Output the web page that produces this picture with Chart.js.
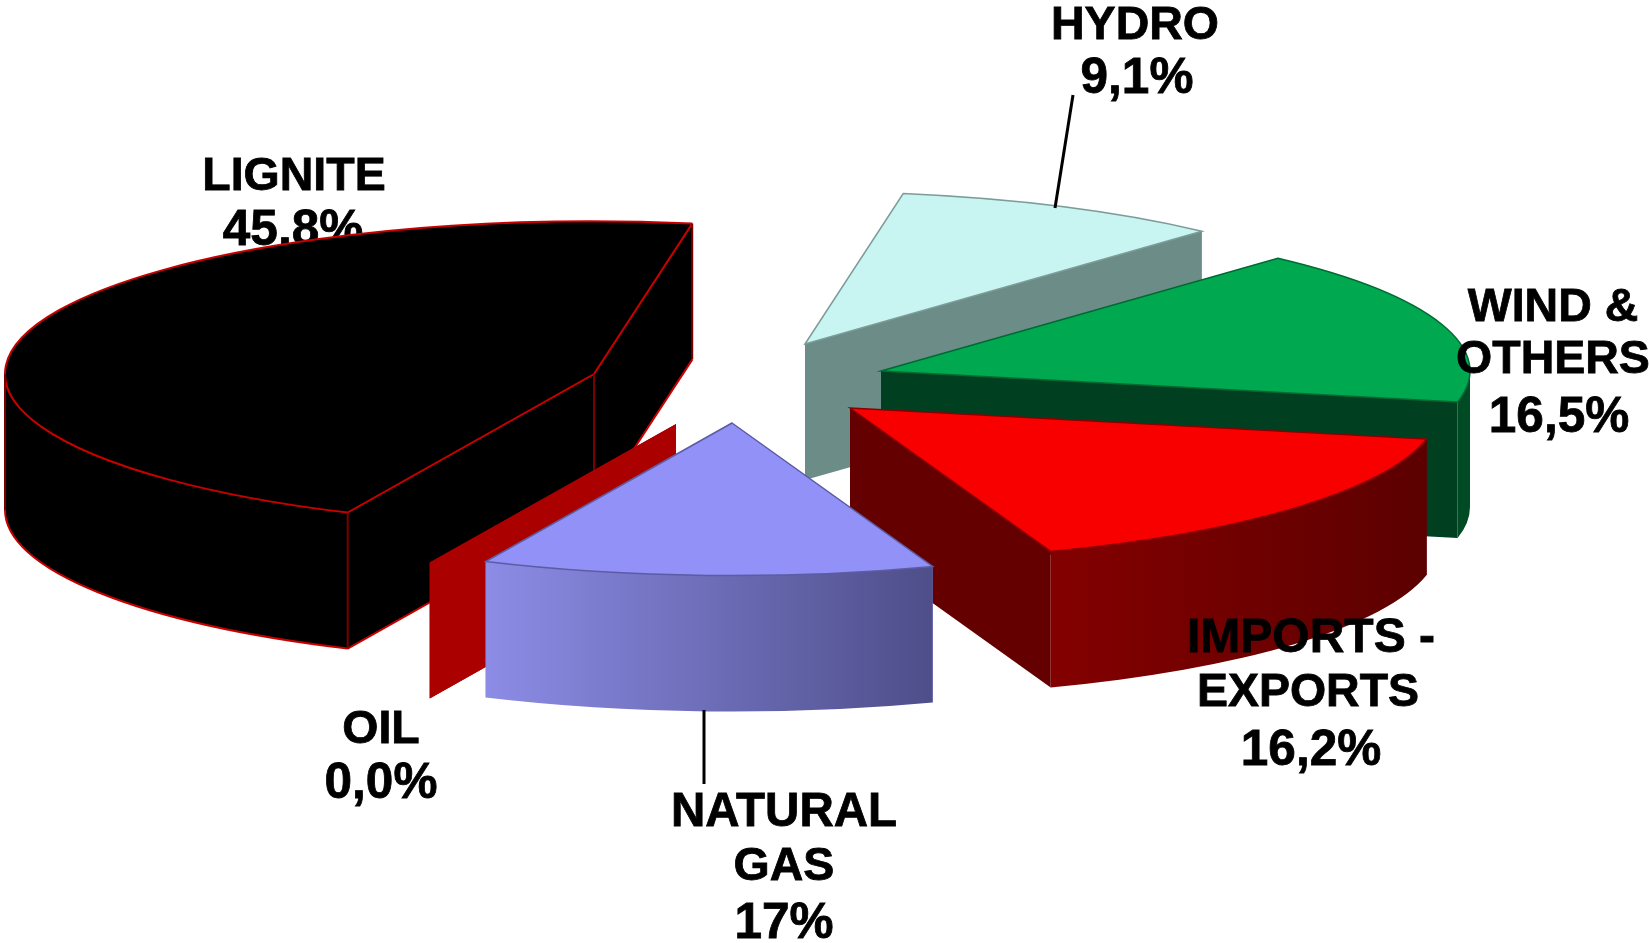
<!DOCTYPE html>
<html>
<head>
<meta charset="utf-8">
<title>Electricity mix</title>
<script src="https://cdn.jsdelivr.net/npm/chart.js@4"></script>
<style>
  html, body { margin: 0; padding: 0; background: #fff; }
  canvas { display: block; }
</style>
</head>
<body>
<canvas id="mix" width="1649" height="943"></canvas>
<script>
// slices clockwise, starting at the back of the pie
const categories = ["HYDRO", "WIND & OTHERS", "IMPORTS - EXPORTS", "NATURAL GAS", "OIL", "LIGNITE"];
// share as drawn in the picture (the gas slice is drawn smaller than its 17% label)
const sliceShares = [9.1, 16.5, 16.2, 12.4, 0.0, 45.8];
const shareLabels = ["9,1%", "16,5%", "16,2%", "17%", "0,0%", "45,8%"];

const topColors = ["#c8f5f2", "#00a94f", "#f80000", "#9191f7", "#ab0000", "#000000"];

const SQUASH = 0.259;   // ellipse height / width
const DEPTH = 136;      // slice thickness in px

// per-slice look of the extruded part
const walls = {
  0: { side: "#6c8c88", outer: ["#6c8c88", "#6c8c88"], rim: "#7d9c98" },
  1: { side: "#004020", outer: ["#004a24", "#004a24"], rim: "#006a34" },
  2: { side: "#640000", outer: ["#840000", "#5c0000"], rim: "#8a0000" },
  3: { side: "#8a8ae6", outer: ["#8c8ce6", "#4e4e8a"], rim: "#5c5ca4" },
  4: { side: "#ab0000", outer: ["#ab0000", "#ab0000"] },
  5: { side: "#000000", outer: ["#000000", "#000000"], edge: "#c80000" }
};

function frontRanges(a0, a1) {
  // parts of [a0,a1] that face the viewer (lower half of the ellipse)
  const out = [];
  const TAU = Math.PI * 2;
  for (let k = -1; k <= 2; k++) {
    const s = Math.max(a0, k * TAU);
    const e = Math.min(a1, k * TAU + Math.PI);
    if (e > s) out.push([s, e]);
  }
  return out;
}

const pie3d = {
  id: "pie3d",
  beforeDatasetDraw() {
    return false; // everything is painted in beforeDatasetsDraw
  },
  beforeDatasetsDraw(chart, args, opts) {
    const ctx = chart.ctx;
    const arcs = chart.getDatasetMeta(0).data;

    opts.behind.forEach((t) => drawText(ctx, t));

    opts.paintOrder.forEach((i) => {
      const arc = arcs[i];
      const wall = walls[i];
      const cx = arc.x + opts.explode[i][0];
      const cy = arc.y + opts.explode[i][1];
      const r = arc.outerRadius;
      const px = (a) => cx + Math.cos(a) * r;
      const py = (a) => cy + Math.sin(a) * r * SQUASH;

      // radial cut faces
      [arc.startAngle, arc.endAngle].forEach((a) => {
        ctx.fillStyle = wall.side;
        ctx.beginPath();
        ctx.moveTo(cx, cy);
        ctx.lineTo(px(a), py(a));
        ctx.lineTo(px(a), py(a) + DEPTH);
        ctx.lineTo(cx, cy + DEPTH);
        ctx.closePath();
        ctx.fill();
      });

      // curved outer wall
      frontRanges(arc.startAngle, arc.endAngle).forEach(([a0, a1]) => {
        const grad = ctx.createLinearGradient(Math.min(px(a0), px(a1)), 0, Math.max(px(a0), px(a1)), 0);
        // the light side is the left one
        grad.addColorStop(0, wall.outer[0]);
        grad.addColorStop(1, wall.outer[1]);
        ctx.fillStyle = grad;
        ctx.beginPath();
        ctx.ellipse(cx, cy, r, r * SQUASH, 0, a0, a1);
        ctx.ellipse(cx, cy + DEPTH, r, r * SQUASH, 0, a1, a0, true);
        ctx.closePath();
        ctx.fill();
      });

      // top face: the library's own arc, squashed and moved out
      ctx.save();
      ctx.translate(cx, cy);
      ctx.scale(1, SQUASH);
      ctx.translate(-arc.x, -arc.y);
      arc.draw(ctx);
      ctx.restore();

      // thin darker rim round the top face
      if (wall.rim) {
        ctx.strokeStyle = wall.rim;
        ctx.lineWidth = 1.5;
        ctx.beginPath();
        ctx.moveTo(cx, cy);
        ctx.lineTo(px(arc.startAngle), py(arc.startAngle));
        ctx.ellipse(cx, cy, r, r * SQUASH, 0, arc.startAngle, arc.endAngle);
        ctx.closePath();
        ctx.stroke();
      }

      // red wire edges on the lignite slice
      if (wall.edge) {
        const a0 = arc.startAngle, a1 = arc.endAngle;
        ctx.strokeStyle = wall.edge;
        ctx.lineWidth = 2;
        ctx.beginPath();
        ctx.moveTo(px(a1), py(a1));
        ctx.lineTo(cx, cy);
        ctx.lineTo(px(a0), py(a0));
        ctx.ellipse(cx, cy, r, r * SQUASH, 0, a0, a1);
        ctx.stroke();
        ctx.beginPath();
        ctx.ellipse(cx, cy + DEPTH, r, r * SQUASH, 0, a0, Math.PI);
        ctx.moveTo(px(a1), py(a1) + DEPTH);
        ctx.lineTo(cx, cy + DEPTH);
        ctx.lineTo(px(a0), py(a0) + DEPTH);
        ctx.stroke();
        ctx.strokeStyle = "#7a0000";
        ctx.lineWidth = 2;
        ctx.beginPath();
        [a0, a1, Math.PI].forEach((a) => {
          ctx.moveTo(px(a), py(a));
          ctx.lineTo(px(a), py(a) + DEPTH);
        });
        ctx.moveTo(cx, cy);
        ctx.lineTo(cx, cy + DEPTH);
        ctx.stroke();
      }
    });

    opts.front.forEach((t) => drawText(ctx, t));

    ctx.strokeStyle = "#000";
    ctx.lineWidth = 3;
    opts.leaders.forEach((l) => {
      ctx.beginPath();
      ctx.moveTo(l[0], l[1]);
      ctx.lineTo(l[2], l[3]);
      ctx.stroke();
    });
  }
};

function drawText(ctx, t) {
  ctx.font = 'bold ' + (t.size || 46.5) + 'px "Liberation Sans"';
  ctx.fillStyle = "#000";
  ctx.strokeStyle = "#000";
  ctx.lineWidth = 0.8;
  ctx.textAlign = "center";
  ctx.textBaseline = "alphabetic";
  ctx.fillText(t.text, t.x, t.y);
  ctx.strokeText(t.text, t.x, t.y);
}

new Chart(document.getElementById("mix"), {
  type: "pie",
  data: {
    labels: categories,
    datasets: [{
      data: sliceShares,
      backgroundColor: topColors,
      borderWidth: 0
    }]
  },
  options: {
    responsive: false,
    animation: false,
    rotation: 9.6,
    radius: 589,
    layout: { padding: { right: 187, bottom: 181 } },
    plugins: {
      legend: { display: false },
      tooltip: { enabled: false },
      pie3d: {
        paintOrder: [0, 1, 5, 4, 2, 3],
        // how far each slice is pulled out of the pie
        explode: [[74, -37], [150, -10], [119, 27], [1, 42], [-55, 43], [-137, -7]],
        behind: [
          { text: shareLabels[5], x: 293, y: 245, size: 49.5 }
        ],
        front: [
          { text: "LIGNITE", x: 294, y: 190 },
          { text: "HYDRO", x: 1135, y: 39 },
          { text: shareLabels[0], x: 1137, y: 93, size: 49.5 },
          { text: "WIND &", x: 1553, y: 321 },
          { text: "OTHERS", x: 1553, y: 373 },
          { text: shareLabels[1], x: 1559, y: 432, size: 49.5 },
          { text: "IMPORTS -", x: 1311, y: 652, size: 48 },
          { text: "EXPORTS", x: 1308, y: 706 },
          { text: shareLabels[2], x: 1311, y: 765, size: 49.5 },
          { text: "OIL", x: 381, y: 743 },
          { text: shareLabels[4], x: 381, y: 798, size: 49.5 },
          { text: "NATURAL", x: 784, y: 826, size: 47.5 },
          { text: "GAS", x: 784, y: 880 },
          { text: shareLabels[3], x: 784, y: 938, size: 49.5 }
        ],
        leaders: [
          [1073, 95, 1055, 208],
          [704, 710, 704, 784]
        ]
      }
    }
  },
  plugins: [pie3d]
});
</script>
</body>
</html>
